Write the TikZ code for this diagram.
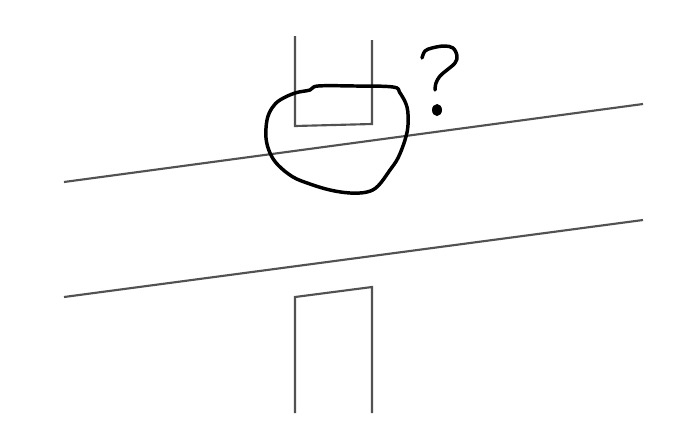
\documentclass[tikz,border=0pt]{standalone}
\begin{document}
\begin{tikzpicture}[x=0.75pt,y=-0.75pt,
  wall/.style={draw=black!68,line width=1.6pt},
  ink/.style={draw=black,line width=2.6pt,line cap=round,line join=round}]
\useasboundingbox (0,0) rectangle (691,429);
% two slanted lines
\coordinate (a1) at (64,182); \coordinate (a2) at (643,104);
\coordinate (b1) at (64,297); \coordinate (b2) at (643,220);
\draw[wall] (a1) -- (a2);
\draw[wall] (b1) -- (b2);
% top open box
\coordinate (t1) at (295,36); \coordinate (t2) at (295,126);
\coordinate (t3) at (372,124); \coordinate (t4) at (372,40);
\draw[wall] (t1) -- (t2) -- (t3) -- (t4);
% bottom open box
\coordinate (u1) at (295,413); \coordinate (u2) at (295,297);
\coordinate (u3) at (372,287); \coordinate (u4) at (372,413);
\draw[wall] (u1) -- (u2) -- (u3) -- (u4);
% hand-drawn loop
\draw[ink] plot[smooth cycle,tension=0.6] coordinates {
 (318,86) (355,86) (393,87) (400,93) (407,107) (408,125) (405,140) (398,158)
 (390,170) (378,186) (367,192) (350,193) (330,190) (310,184) (293,177)
 (278,165) (270,153) (266,138) (267,120) (272,108) (280,100) (295,93) (310,90)};
% question mark
\draw[ink] plot[smooth,tension=0.6] coordinates {
 (422,58) (425,51) (432,48) (444,46) (453,48) (457,56) (455,63) (447,70)
 (440,76) (436,83) (435,90)};
\fill[black] (437,110) ellipse (5 and 6);
\end{tikzpicture}
\end{document}
